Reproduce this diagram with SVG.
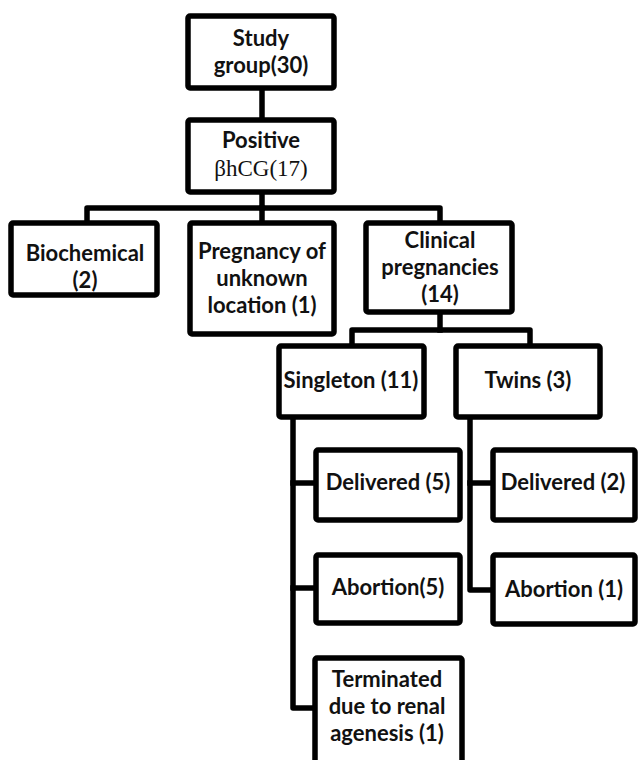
<svg xmlns="http://www.w3.org/2000/svg" width="638" height="760" viewBox="0 0 638 760">
<style>
.box{fill:#fff;stroke:#000;stroke-width:5.5;stroke-linejoin:round}
.ln{fill:none;stroke:#000;stroke-width:5.5;stroke-linejoin:round;stroke-linecap:square}
text{font-family:Lato,"Open Sans","Liberation Sans",sans-serif;font-weight:bold;font-size:22px;fill:#111;text-anchor:middle}
.serif{font-family:"Liberation Serif","DejaVu Serif",serif;font-weight:normal;font-size:23px}
</style>
<rect width="638" height="760" fill="#fff"/>
<g id="connectors">
<path class="ln" d="M262,90 V117"/>
<path class="ln" d="M262,195 V208"/>
<path class="ln" d="M87,220 V208 H440 V220"/>
<path class="ln" d="M262,208 V220"/>
<path class="ln" d="M440,315 V330"/>
<path class="ln" d="M352,343 V330 H530 V343"/>
<path class="ln" d="M293,420 V708 H313"/>
<path class="ln" d="M293,483 H313"/>
<path class="ln" d="M293,588 H313"/>
<path class="ln" d="M470,420 V590 H490"/>
<path class="ln" d="M470,483 H490"/>
</g>
<g id="study"><rect class="box" x="188" y="16" width="146" height="72" rx="2"/><text x="261" y="46">Study</text><text x="261" y="73">group(30)</text></g>
<g id="positive"><rect class="box" x="188" y="120" width="146" height="72" rx="2"/><text x="261" y="148">Positive</text><text class="serif" x="261" y="176">βhCG(17)</text></g>
<g id="biochemical"><rect class="box" x="11" y="223" width="146" height="72" rx="2"/><text x="85" y="261">Biochemical</text><text x="85" y="288">(2)</text></g>
<g id="pul"><rect class="box" x="190" y="223" width="144" height="111" rx="2"/><text x="262" y="259">Pregnancy of</text><text x="262" y="286">unknown</text><text x="262" y="313">location (1)</text></g>
<g id="clinical"><rect class="box" x="366" y="223" width="146" height="89" rx="2"/><text x="440" y="248">Clinical</text><text x="440" y="275">pregnancies</text><text x="440" y="302">(14)</text></g>
<g id="singleton"><rect class="box" x="279" y="346" width="145" height="71" rx="2"/><text x="351" y="388">Singleton (11)</text></g>
<g id="twins"><rect class="box" x="456" y="346" width="144" height="71" rx="2"/><text x="528" y="388">Twins (3)</text></g>
<g id="delivered5"><rect class="box" x="316" y="450" width="144" height="70" rx="2"/><text x="388" y="490">Delivered (5)</text></g>
<g id="delivered2"><rect class="box" x="493" y="450" width="142" height="70" rx="2"/><text x="563" y="490">Delivered (2)</text></g>
<g id="abortion5"><rect class="box" x="316" y="555" width="144" height="68" rx="2"/><text x="388" y="595">Abortion(5)</text></g>
<g id="abortion1"><rect class="box" x="493" y="555" width="142" height="69" rx="2"/><text x="564" y="597">Abortion (1)</text></g>
<g id="terminated"><rect class="box" x="315" y="658" width="147" height="110" rx="2"/><text x="387" y="687">Terminated</text><text x="387" y="714">due to renal</text><text x="387" y="741">agenesis (1)</text></g>
</svg>
